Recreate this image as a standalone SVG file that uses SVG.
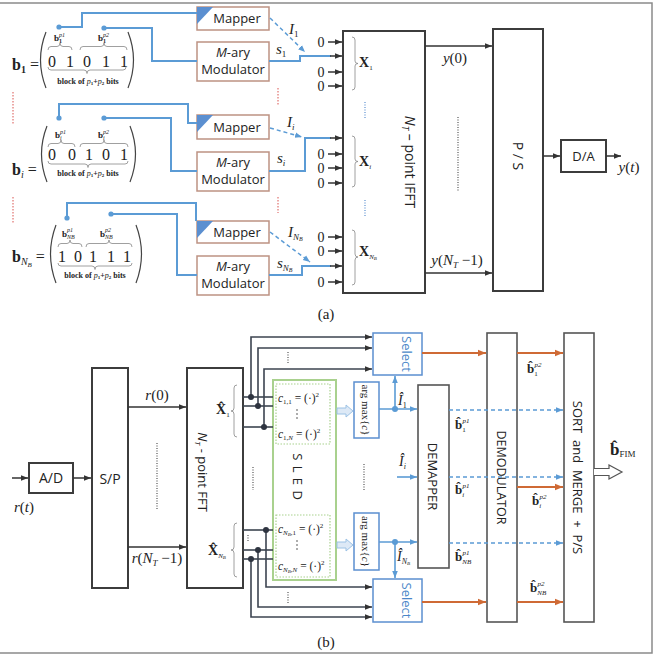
<svg xmlns="http://www.w3.org/2000/svg" width="657" height="659" viewBox="0 0 657 659">
<style>
.bx{fill:#fff;stroke:#3c3c3c;stroke-width:2}
.gb{fill:#fff;stroke:#555;stroke-width:1.6}
.mb{fill:#fff;stroke:#bd9283;stroke-width:1.5}
.sans{font-family:"Open Sans","Liberation Sans",sans-serif;fill:#222}
.m{font-family:"Liberation Serif","Times New Roman","DejaVu Serif",serif;fill:#222}
.it{font-style:italic}
.bd{font-weight:bold}
.bl{fill:none;stroke:#5b9bd5;stroke-width:2}
.bdash{fill:none;stroke:#5b9bd5;stroke-width:1.5;stroke-dasharray:4 3}
.k{fill:none;stroke:#333;stroke-width:1.5}
.g{fill:none;stroke:#3c4450;stroke-width:1.6}
.or{fill:none;stroke:#cf6a35;stroke-width:2}
.red{fill:none;stroke:#d9534f;stroke-width:1;stroke-dasharray:1.5 1.5}
.dot{fill:none;stroke:#555;stroke-width:1.2;stroke-dasharray:1 1.5}
.bdot{fill:none;stroke:#5b8fd0;stroke-width:1.2;stroke-dasharray:1 1.5}
.brc{fill:none;stroke:#888;stroke-width:0.8}
.par{fill:none;stroke:#444;stroke-width:1.2}
.sel{fill:#fff;stroke:#5b8fd0;stroke-width:1.5}
.grn{fill:#fff;stroke:#a9d18e;stroke-width:2}
.grd{fill:none;stroke:#a9d18e;stroke-width:1.2;stroke-dasharray:1.5 1.5}
</style>
<defs>
<marker id="ak" viewBox="0 0 10 10" refX="10" refY="5" markerWidth="7" markerHeight="7" markerUnits="userSpaceOnUse" orient="auto"><path d="M0,1 L10,5 L0,9 z" fill="#333"/></marker>
<marker id="ab" viewBox="0 0 10 10" refX="10" refY="5" markerWidth="7" markerHeight="7" markerUnits="userSpaceOnUse" orient="auto"><path d="M0,1 L10,5 L0,9 z" fill="#5b9bd5"/></marker>
<marker id="ao" viewBox="0 0 10 10" refX="10" refY="5" markerWidth="8" markerHeight="8" markerUnits="userSpaceOnUse" orient="auto"><path d="M0,1 L10,5 L0,9 z" fill="#cf6a35"/></marker>
</defs>

<rect x="-5" y="3" width="657" height="650" fill="none" stroke="#8a8a8a" stroke-width="1.5"/>

<!-- ================= (a) ================= -->
<g id="vec-b1">
<text class="m bd" font-size="16" x="12" y="70">b<tspan font-size="10" dy="3">1</tspan><tspan dy="-3" font-weight="normal"> =</tspan></text>
<path class="par" d="M46,32 Q35,60 46,88"/><path class="par" d="M128,32 Q139,60 128,88"/>
<text class="m" font-size="16" y="66.5" text-anchor="middle"><tspan x="52">0</tspan><tspan x="70">1</tspan><tspan x="87">0</tspan><tspan x="106">1</tspan><tspan x="124">1</tspan></text>
<path class="brc" d="M48,50 Q48,46.5 51,46.5 L57,46.5 Q60,46.5 60,43 Q60,46.5 63,46.5 L69,46.5 Q72,46.5 72,50"/>
<path class="brc" d="M80,50 Q80,46.5 83,46.5 L101,46.5 Q104,46.5 104,43 Q104,46.5 107,46.5 L124,46.5 Q127,46.5 127,50"/>
<path class="brc" d="M48,67 Q48,70 51,70 L84,70 Q87,70 87,73.5 Q87,70 90,70 L123,70 Q126,70 126,67"/>
<text class="m bd" font-size="9" x="54" y="41">b<tspan font-size="6" dy="2">1</tspan><tspan font-size="6" x="59" dy="-6" font-style="italic" font-weight="normal">p1</tspan></text>
<text class="m bd" font-size="9" x="98" y="41">b<tspan font-size="6" dy="2">1</tspan><tspan font-size="6" x="103" dy="-6" font-style="italic" font-weight="normal">p2</tspan></text>
<text class="m bd" font-size="8" x="88" y="84" text-anchor="middle">block of <tspan font-style="italic" font-weight="normal">p</tspan><tspan font-size="5" dy="1">1</tspan><tspan dy="-1">+</tspan><tspan font-style="italic" font-weight="normal">p</tspan><tspan font-size="5" dy="1">2</tspan><tspan dy="-1"> bits</tspan></text>
</g>

<g id="vec-bi">
<text class="m bd" font-size="16" x="12" y="175">b<tspan font-size="10" dy="3" font-style="italic" font-weight="normal">i</tspan><tspan dy="-3" font-weight="normal"> =</tspan></text>
<path class="par" d="M47,126 Q36,154 47,182"/><path class="par" d="M130,126 Q141,154 130,182"/>
<text class="m" font-size="16" y="160" text-anchor="middle"><tspan x="52">0</tspan><tspan x="72">0</tspan><tspan x="89">1</tspan><tspan x="106">0</tspan><tspan x="124">1</tspan></text>
<path class="brc" d="M48,147 Q48,143.5 51,143.5 L58,143.5 Q61,143.5 61,140 Q61,143.5 64,143.5 L72,143.5 Q75,143.5 75,147"/>
<path class="brc" d="M80,147 Q80,143.5 83,143.5 L101,143.5 Q104,143.5 104,140 Q104,143.5 107,143.5 L125,143.5 Q128,143.5 128,147"/>
<path class="brc" d="M48,161 Q48,164 51,164 L85,164 Q88,164 88,167.5 Q88,164 91,164 L125,164 Q128,164 128,161"/>
<text class="m bd" font-size="9" x="55" y="138">b<tspan font-size="6" dy="2" font-style="italic" font-weight="normal">i</tspan><tspan font-size="6" x="60" dy="-6" font-style="italic" font-weight="normal">p1</tspan></text>
<text class="m bd" font-size="9" x="98" y="138">b<tspan font-size="6" dy="2" font-style="italic" font-weight="normal">i</tspan><tspan font-size="6" x="103" dy="-6" font-style="italic" font-weight="normal">p2</tspan></text>
<text class="m bd" font-size="8" x="88" y="176" text-anchor="middle">block of <tspan font-style="italic" font-weight="normal">p</tspan><tspan font-size="5" dy="1">1</tspan><tspan dy="-1">+</tspan><tspan font-style="italic" font-weight="normal">p</tspan><tspan font-size="5" dy="1">2</tspan><tspan dy="-1"> bits</tspan></text>
</g>

<g id="vec-bNB">
<text class="m bd" font-size="16" x="12" y="262">b<tspan font-size="10" dy="3" font-style="italic" font-weight="normal">N</tspan><tspan font-size="7" dy="2" font-style="italic" font-weight="normal">B</tspan><tspan dy="-5" font-weight="normal"> =</tspan></text>
<path class="par" d="M56,225 Q45,254 56,283"/><path class="par" d="M136,225 Q147,254 136,283"/>
<text class="m" font-size="16" y="262" text-anchor="middle"><tspan x="62">1</tspan><tspan x="78">0</tspan><tspan x="93">1</tspan><tspan x="111">1</tspan><tspan x="127">1</tspan></text>
<path class="brc" d="M58,247 Q58,243.5 61,243.5 L67,243.5 Q70,243.5 70,240 Q70,243.5 73,243.5 L79,243.5 Q82,243.5 82,247"/>
<path class="brc" d="M86,247 Q86,243.5 89,243.5 L106,243.5 Q109,243.5 109,240 Q109,243.5 112,243.5 L129,243.5 Q132,243.5 132,247"/>
<path class="brc" d="M58,263 Q58,266 61,266 L92,266 Q95,266 95,269.5 Q95,266 98,266 L129,266 Q132,266 132,263"/>
<text class="m bd" font-size="9" x="62" y="237">b<tspan font-size="6" dy="2" font-style="italic" font-weight="normal">NB</tspan><tspan font-size="6" x="67" dy="-7" font-style="italic" font-weight="normal">p1</tspan></text>
<text class="m bd" font-size="9" x="100" y="237">b<tspan font-size="6" dy="2" font-style="italic" font-weight="normal">NB</tspan><tspan font-size="6" x="105" dy="-7" font-style="italic" font-weight="normal">p2</tspan></text>
<text class="m bd" font-size="8" x="95" y="278" text-anchor="middle">block of <tspan font-style="italic" font-weight="normal">p</tspan><tspan font-size="5" dy="1">1</tspan><tspan dy="-1">+</tspan><tspan font-style="italic" font-weight="normal">p</tspan><tspan font-size="5" dy="1">2</tspan><tspan dy="-1"> bits</tspan></text>
</g>

<g id="mapper1"><rect class="mb" x="197" y="7" width="72" height="23"/><polygon points="197,7 213,7 197,24" fill="#5b8fd0"/><text class="sans" font-size="13" x="237" y="23" text-anchor="middle">Mapper</text></g>
<g id="mod1"><rect class="mb" x="197" y="42" width="72" height="39"/><text class="sans" font-size="13" x="233" y="57" text-anchor="middle"><tspan font-style="italic">M</tspan>-ary</text><text class="sans" font-size="13" x="233" y="74" text-anchor="middle">Modulator</text></g>
<g id="mapper2"><rect class="mb" x="197" y="115" width="72" height="24"/><polygon points="197,115 213,115 197,132" fill="#5b8fd0"/><text class="sans" font-size="13" x="237" y="131.5" text-anchor="middle">Mapper</text></g>
<g id="mod2"><rect class="mb" x="197" y="152" width="72" height="39"/><text class="sans" font-size="13" x="233" y="167" text-anchor="middle"><tspan font-style="italic">M</tspan>-ary</text><text class="sans" font-size="13" x="233" y="184" text-anchor="middle">Modulator</text></g>
<g id="mapper3"><rect class="mb" x="197" y="221" width="72" height="22"/><polygon points="197,221 213,221 197,238" fill="#5b8fd0"/><text class="sans" font-size="13" x="237" y="236.5" text-anchor="middle">Mapper</text></g>
<g id="mod3"><rect class="mb" x="197" y="256" width="72" height="39"/><text class="sans" font-size="13" x="233" y="271" text-anchor="middle"><tspan font-style="italic">M</tspan>-ary</text><text class="sans" font-size="13" x="233" y="288" text-anchor="middle">Modulator</text></g>

<g id="ifft">
<rect class="bx" x="343" y="31" width="82" height="262"/>
<text class="sans" font-size="14" transform="translate(405,162) rotate(90)" text-anchor="middle"><tspan font-style="italic">N</tspan><tspan font-size="9" dy="3" font-style="italic">T</tspan><tspan dy="-3"> – point IFFT</tspan></text>
<path class="brc" d="M352,37 Q355,37 355,40 L355,61 Q355,63.5 358,63.5 Q355,63.5 355,66 L355,87 Q355,90 352,90"/>
<text class="m bd" font-size="14" x="359" y="67">X<tspan font-size="7" dy="3" font-weight="normal">1</tspan></text>
<path class="brc" d="M352,136 Q355,136 355,139 L355,159 Q355,161.5 358,161.5 Q355,161.5 355,164 L355,184 Q355,187 352,187"/>
<text class="m bd" font-size="14" x="359" y="166">X<tspan font-size="7" dy="3" font-weight="normal" font-style="italic">i</tspan></text>
<path class="brc" d="M352,230 Q355,230 355,233 L355,254 Q355,257 358,257 Q355,257 355,260 L355,282 Q355,285 352,285"/>
<text class="m bd" font-size="14" x="359" y="256">X<tspan font-size="7" dy="3" font-weight="normal" font-style="italic">N</tspan><tspan font-size="5" dy="1" font-weight="normal" font-style="italic">B</tspan></text>
<path class="bdot" d="M365,102 V118 M365,200 V217"/>
</g>
<g id="ps"><rect class="bx" x="493" y="29" width="50" height="262"/><text class="sans" font-size="14" transform="translate(513,156) rotate(90)" text-anchor="middle">P / S</text></g>
<g id="da"><rect class="bx" x="561" y="140" width="45" height="32"/><text class="sans" font-size="13" x="583.5" y="161" text-anchor="middle">D/A</text></g>

<g id="connectors-a">
<path class="bl" d="M59,27 H82 V13 H197"/>
<path class="bl" d="M104,28 H152 V61 H197"/>
<path class="bl" d="M59,118 V104 H188 V123 H197"/>
<path class="bl" d="M104,118 H171 V171 H197"/>
<path class="bl" d="M67,218 V203 H196 V221"/>
<path class="bl" d="M111,214 H177 V275 H197"/>
<circle cx="59" cy="27" r="2.6" fill="#5b9bd5"/><circle cx="104" cy="28" r="2.6" fill="#5b9bd5"/>
<circle cx="59" cy="118" r="2.6" fill="#5b9bd5"/><circle cx="104" cy="118" r="2.6" fill="#5b9bd5"/>
<circle cx="67" cy="218" r="2.6" fill="#5b9bd5"/><circle cx="111" cy="214" r="2.6" fill="#5b9bd5"/>
<path class="bl" d="M269,61 H300 V56 H331"/>
<path class="bl" d="M269,171 H305 V138 H331"/>
<path class="bl" d="M269,275 H302 V266 H331"/>
<path class="bdash" d="M270,18 L305,52" marker-end="url(#ab)"/>
<path class="bdash" d="M270,128 L302,137" marker-end="url(#ab)"/>
<path class="bdash" d="M270,232 L310,262" marker-end="url(#ab)"/>
<g class="k" marker-end="url(#ak)">
<path d="M328,42 H342"/><path d="M330,56 H342"/><path d="M328,72 H342"/><path d="M328,86 H342"/>
<path d="M330,138 H342"/><path d="M328,154 H342"/><path d="M328,168 H342"/><path d="M328,183 H342"/>
<path d="M328,237 H342"/><path d="M328,251 H342"/><path d="M330,266 H342"/><path d="M328,282 H342"/>
<path d="M425,46 H492"/><path d="M425,273 H492"/><path d="M543,156 H560"/><path d="M606,156 H621"/>
</g>
<path class="dot" d="M458,117 V192"/>
<path class="red" d="M13,92 V125 M13,197 V223 M278,88 V106 M278,197 V213"/>
</g>

<g id="labels-a">
<text class="m" font-size="14" text-anchor="middle"><tspan x="321" y="47">0</tspan><tspan x="321" y="77">0</tspan><tspan x="321" y="91">0</tspan><tspan x="321" y="159">0</tspan><tspan x="321" y="173">0</tspan><tspan x="321" y="188">0</tspan><tspan x="321" y="242">0</tspan><tspan x="321" y="256">0</tspan><tspan x="321" y="287">0</tspan></text>
<text class="m it" font-size="15" x="289" y="34">I<tspan font-size="9" dy="3" font-style="normal">1</tspan></text>
<text class="m it" font-size="15" x="276" y="54">s<tspan font-size="9" dy="3" font-style="normal">1</tspan></text>
<text class="m it" font-size="15" x="287" y="127">I<tspan font-size="9" dy="3">i</tspan></text>
<text class="m it" font-size="15" x="277" y="163">s<tspan font-size="9" dy="3">i</tspan></text>
<text class="m it" font-size="15" x="288" y="237">I<tspan font-size="9" dy="3">N</tspan><tspan font-size="6" dy="1">B</tspan></text>
<text class="m it" font-size="15" x="277" y="268">s<tspan font-size="9" dy="3">N</tspan><tspan font-size="6" dy="1">B</tspan></text>
<text class="m" font-size="15" x="455" y="63" text-anchor="middle"><tspan font-style="italic">y</tspan>(0)</text>
<text class="m" font-size="15" x="457" y="265" text-anchor="middle"><tspan font-style="italic">y</tspan>(<tspan font-style="italic">N</tspan><tspan font-size="9" dy="3" font-style="italic">T</tspan><tspan dy="-3"> −1)</tspan></text>
<text class="m" font-size="15" x="629" y="172" text-anchor="middle"><tspan font-style="italic">y</tspan>(<tspan font-style="italic">t</tspan>)</text>
<text class="m" font-size="15" x="326" y="319" text-anchor="middle">(a)</text>
</g>

<!-- ================= (b) ================= -->
<g id="ad"><rect class="bx" x="29" y="463" width="44" height="30"/><text class="sans" font-size="14" x="51" y="483" text-anchor="middle">A/D</text></g>
<g id="sp"><rect class="bx" x="92" y="368" width="36" height="220"/><text class="sans" font-size="14" x="110" y="484" text-anchor="middle">S/P</text></g>
<g id="fft">
<rect class="bx" x="187" y="368" width="56" height="220"/>
<text class="sans" font-size="13" transform="translate(198,472) rotate(90)" text-anchor="middle"><tspan font-style="italic">N</tspan><tspan font-size="8" dy="3" font-style="italic">T</tspan><tspan dy="-3"> - point FFT</tspan></text>
<text class="m bd" font-size="14" x="216" y="414">X&#x302;<tspan font-size="7" dy="3" font-weight="normal">1</tspan></text>
<path class="brc" d="M237,385 Q234,385 234,388 L234,408 Q234,411 231,411 Q234,411 234,414 L234,434 Q234,437 237,437"/>
<text class="m bd" font-size="14" x="208" y="555">X&#x302;<tspan font-size="7" dy="3" font-weight="normal" font-style="italic">N</tspan><tspan font-size="5" dy="1" font-weight="normal" font-style="italic">B</tspan></text>
<path class="brc" d="M237,523 Q234,523 234,526 L234,547 Q234,550 231,550 Q234,550 234,553 L234,574 Q234,577 237,577"/>
</g>
<g id="sled">
<rect class="grn" x="273" y="380" width="63" height="200"/>
<rect class="grd" x="276" y="384" width="54" height="60"/>
<rect class="grd" x="276" y="515" width="54" height="62"/>
<text class="m" font-size="11.5" x="278" y="402"><tspan font-style="italic">c</tspan><tspan font-size="7" dy="2">1,1</tspan><tspan dy="-2"> = (·)</tspan><tspan font-size="7" dy="-5">2</tspan></text>
<text class="m" font-size="11.5" x="278" y="438"><tspan font-style="italic">c</tspan><tspan font-size="7" dy="2">1,<tspan font-style="italic">N</tspan></tspan><tspan dy="-2"> = (·)</tspan><tspan font-size="7" dy="-5">2</tspan></text>
<text class="m" font-size="11.5" x="278" y="533"><tspan font-style="italic">c</tspan><tspan font-size="7" dy="2" font-style="italic">N</tspan><tspan font-size="5" dy="1" font-style="italic">B</tspan><tspan font-size="7" dy="-1">,1</tspan><tspan dy="-2"> = (·)</tspan><tspan font-size="7" dy="-5">2</tspan></text>
<text class="m" font-size="11.5" x="278" y="570"><tspan font-style="italic">c</tspan><tspan font-size="7" dy="2" font-style="italic">N</tspan><tspan font-size="5" dy="1" font-style="italic">B</tspan><tspan font-size="7" dy="-1">,<tspan font-style="italic">N</tspan></tspan><tspan dy="-2"> = (·)</tspan><tspan font-size="7" dy="-5">2</tspan></text>
<g fill="#444"><circle cx="297" cy="410" r="0.8"/><circle cx="297" cy="414" r="0.8"/><circle cx="297" cy="418" r="0.8"/><circle cx="297" cy="541" r="0.8"/><circle cx="297" cy="545" r="0.8"/><circle cx="297" cy="549" r="0.8"/></g>
<text class="sans" font-size="13" transform="translate(293,477) rotate(90)" text-anchor="middle" letter-spacing="1">S L E D</text>
</g>
<g id="argmax1"><rect class="sel" x="354" y="382" width="25" height="56"/><text class="m" font-size="11" transform="translate(362,410) rotate(90)" text-anchor="middle">arg max{<tspan font-style="italic">c</tspan>}</text></g>
<g id="argmax2"><rect class="sel" x="354" y="513" width="25" height="57"/><text class="m" font-size="11" transform="translate(362,541.5) rotate(90)" text-anchor="middle">arg max{<tspan font-style="italic">c</tspan>}</text></g>
<g id="select1"><rect class="sel" x="373" y="333" width="49" height="42"/><text class="sans" font-size="13" style="fill:#4a86c8" transform="translate(402,354) rotate(90)" text-anchor="middle">Select</text></g>
<g id="select2"><rect class="sel" x="373" y="579" width="49" height="43"/><text class="sans" font-size="13" style="fill:#4a86c8" transform="translate(402,600.5) rotate(90)" text-anchor="middle">Select</text></g>
<g id="demapper"><rect class="gb" x="418" y="385" width="31" height="183"/><text class="sans" font-size="13" transform="translate(428,476.5) rotate(90)" text-anchor="middle">DEMAPPER</text></g>
<g id="demodulator"><rect class="gb" x="487" y="333" width="30" height="289"/><text class="sans" font-size="12.5" transform="translate(497,477.5) rotate(90)" text-anchor="middle">DEMODULATOR</text></g>
<g id="sortmerge"><rect class="gb" x="564" y="333" width="30" height="289"/><text class="sans" font-size="13" transform="translate(573,477.5) rotate(90)" text-anchor="middle" style="white-space:pre">SORT  and  MERGE  +  P/S</text></g>

<g id="connectors-b">
<g class="k" marker-end="url(#ak)">
<path d="M12,478 H28"/><path d="M73,478 H91"/><path d="M128,407 H186"/><path d="M128,547 H186"/>
</g>
<g class="g">
<path d="M243,397 H273"/><path d="M243,406 H273"/><path d="M243,427 H273"/>
<path d="M243,530 H273"/><path d="M243,550 H273"/><path d="M243,559 H273"/>
</g>
<g class="g" marker-end="url(#ak)">
<path d="M251,397 V337 H372"/><path d="M258,406 V348 H372"/><path d="M264,427 V369 H372"/>
<path d="M266,530 V587 H372"/><path d="M258,550 V607 H372"/><path d="M251,559 V617 H372"/>
</g>
<g fill="#2e3440"><circle cx="251" cy="397" r="3"/><circle cx="258" cy="406" r="3"/><circle cx="264" cy="427" r="3"/><circle cx="266" cy="530" r="3"/><circle cx="258" cy="550" r="3"/><circle cx="251" cy="559" r="3"/></g>
<path class="dot" d="M157,443 V509 M288,352 V363 M288,592 V603 M253,467 V490 M364,464 V490 M248,535 V542"/>
<path d="M337,408 H346 V405 L353,411 L346,417 V414 H337 Z" fill="#dde9f6" stroke="#9cc2e5" stroke-width="1"/>
<path d="M337,542 H346 V539 L353,545 L346,551 V548 H337 Z" fill="#dde9f6" stroke="#9cc2e5" stroke-width="1"/>
<g fill="none" stroke="#5b9bd5" stroke-width="1.6" marker-end="url(#ab)">
<path d="M379,409 H417"/><path d="M395,409 V376"/><path d="M397,477 H417"/><path d="M379,542 H417"/><path d="M395,542 V578"/>
</g>
<circle cx="395" cy="409" r="3" fill="#5b9bd5"/><circle cx="395" cy="542" r="3" fill="#5b9bd5"/>
<g class="or" marker-end="url(#ao)">
<path d="M422,353 H486"/><path d="M517,353 H563"/><path d="M517,487 H563"/><path d="M422,602 H486"/><path d="M517,602 H563"/>
</g>
<g class="bdash" marker-end="url(#ab)">
<path d="M449,410 H563"/><path d="M449,477 H563"/><path d="M449,543 H563"/>
</g>
<path d="M594,468.5 H609 V465 L622,472 L609,479 V475.5 H594" fill="#fff" stroke="#555" stroke-width="1.2"/>
</g>

<g id="labels-b">
<text class="m" font-size="15" x="157" y="400" text-anchor="middle"><tspan font-style="italic">r</tspan>(0)</text>
<text class="m" font-size="15" x="157" y="563" text-anchor="middle"><tspan font-style="italic">r</tspan>(<tspan font-style="italic">N</tspan><tspan font-size="9" dy="3" font-style="italic">T</tspan><tspan dy="-3"> −1)</tspan></text>
<text class="m" font-size="15" x="24" y="512" text-anchor="middle"><tspan font-style="italic">r</tspan>(<tspan font-style="italic">t</tspan>)</text>
<text class="m it" font-size="14" x="398" y="405">Î<tspan font-size="8" dy="3" font-style="normal">1</tspan></text>
<text class="m it" font-size="14" x="399" y="466">Î<tspan font-size="8" dy="3">i</tspan></text>
<text class="m it" font-size="14" x="397" y="561">Î<tspan font-size="8" dy="3">N</tspan><tspan font-size="5" dy="1">B</tspan></text>
<text class="m bd" font-size="13" x="527" y="373">b&#x302;<tspan font-size="7" dy="3" font-weight="normal">1</tspan><tspan font-size="7" x="534.5" dy="-9" font-style="italic" font-weight="normal">p2</tspan></text>
<text class="m bd" font-size="13" x="455" y="429">b&#x302;<tspan font-size="7" dy="3" font-weight="normal">1</tspan><tspan font-size="7" x="462.5" dy="-9" font-style="italic" font-weight="normal">p1</tspan></text>
<text class="m bd" font-size="13" x="455" y="494">b&#x302;<tspan font-size="7" dy="3" font-weight="normal" font-style="italic">i</tspan><tspan font-size="7" x="462.5" dy="-9" font-style="italic" font-weight="normal">p1</tspan></text>
<text class="m bd" font-size="13" x="532" y="505">b&#x302;<tspan font-size="7" dy="3" font-weight="normal" font-style="italic">i</tspan><tspan font-size="7" x="539.5" dy="-9" font-style="italic" font-weight="normal">p2</tspan></text>
<text class="m bd" font-size="13" x="455" y="561">b&#x302;<tspan font-size="7" dy="3" font-weight="normal" font-style="italic">NB</tspan><tspan font-size="7" x="462.5" dy="-9" font-style="italic" font-weight="normal">p1</tspan></text>
<text class="m bd" font-size="13" x="530" y="592">b&#x302;<tspan font-size="7" dy="3" font-weight="normal" font-style="italic">NB</tspan><tspan font-size="7" x="537.5" dy="-9" font-style="italic" font-weight="normal">p2</tspan></text>
<text class="m bd" font-size="17" x="610" y="455">b&#x302;<tspan font-size="9" dy="2" font-weight="normal">FIM</tspan></text>
<text class="m" font-size="15" x="326" y="647" text-anchor="middle">(b)</text>
</g>
</svg>
